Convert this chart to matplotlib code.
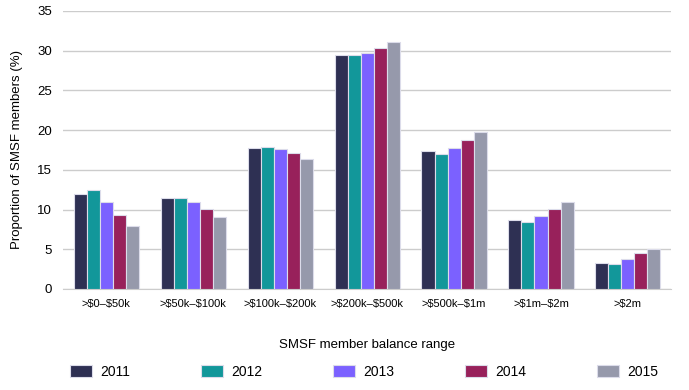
import matplotlib
matplotlib.use('Agg')

import numpy as np
import matplotlib.pyplot as plt

plt.rcParams['font.family'] = ['Liberation Sans', 'DejaVu Sans']
plt.rcParams['text.parse_math'] = False  # $ signs in the labels

categories = ['>$0–$50k', '>$50k–$100k', '>$100k–$200k', '>$200k–$500k',
              '>$500k–$1m', '>$1m–$2m', '>$2m']
years = ['2011', '2012', '2013', '2014', '2015']
v2011 = [12.0, 11.4, 17.8, 29.4, 17.4, 8.7, 3.3]
v2012 = [12.5, 11.5, 17.9, 29.5, 17.0, 8.4, 3.2]
v2013 = [10.9, 10.9, 17.6, 29.7, 17.8, 9.2, 3.8]
v2014 = [9.3, 10.1, 17.1, 30.3, 18.7, 10.1, 4.5]
v2015 = [7.9, 9.0, 16.4, 31.1, 19.8, 10.9, 5.0]
colors = ['#2e3053', '#12979a', '#7b61ff', '#98215b', '#9699ab']

series = [v2011, v2012, v2013, v2014, v2015]

fig = plt.figure(figsize=(6.89, 3.9), dpi=100)
ax = fig.add_axes([0.0914, 0.259, 0.883, 0.713])

x = np.arange(len(categories))
w = 0.15
for i, vals in enumerate(series):
    ax.bar(x + (i - 2) * w, vals, w, color=colors[i], edgecolor='#dcdcea',
           linewidth=0.8, label=years[i], zorder=3)

ax.set_ylim(0, 35)
ax.set_yticks(range(0, 36, 5))
ax.set_xlim(-0.5, len(categories) - 0.5)
ax.set_xticks(x)
ax.set_xticklabels(categories, fontsize=8)
ax.tick_params(axis='y', labelsize=9.5, length=0, pad=8)
ax.tick_params(axis='x', length=0, pad=7)
ax.grid(axis='y', color='#cccccc', linewidth=1, zorder=0)
for s in ['left', 'right', 'top']:
    ax.spines[s].set_visible(False)
ax.spines['bottom'].set_color('#cccccc')
ax.set_ylabel('Proportion of SMSF members (%)', fontsize=9.5, labelpad=10)
ax.set_xlabel('SMSF member balance range', fontsize=9.5, labelpad=22)

fig.legend(loc='lower left', bbox_to_anchor=(64 / 689, 0.015, 600 / 689, 0.06),
           ncol=5, mode='expand', frameon=False, fontsize=10,
           handlelength=1.6, handleheight=1.0, handletextpad=0.6, borderaxespad=0)

plt.savefig('out.png', dpi=100)
